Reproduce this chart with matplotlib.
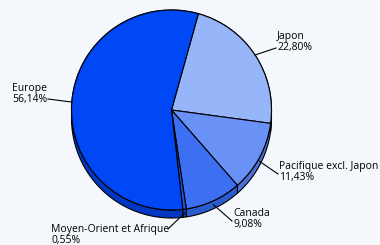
import numpy as np
import matplotlib.pyplot as plt
from matplotlib.patches import Polygon

# data
regions = ["Japon", "Pacifique excl. Japon", "Canada", "Moyen-Orient et Afrique", "Europe"]
shares = [22.80, 11.43, 9.08, 0.55, 56.14]
share_labels = ["22,80%", "11,43%", "9,08%", "0,55%", "56,14%"]

# style
top_colors = ["#97b5f9", "#6a92f6", "#3d6ff2", "#1f55e8", "#0048f5"]
side_colors = ["#7893d0", "#4a72d6", "#2a5bd0", "#1240b8", "#0038c4"]
bg = "#f4f8fc"
start_angle = 74.4
depth = 0.08
px = 0.01  # one pixel in data units

# label layout in pixels: (text x, text y center, ha, leader end x, leader end y)
label_layout = [
    (277, 42, "left", 276, 48),
    (279, 172, "left", 278, 174),
    (233, 219, "left", 232, 221),
    (51, 235, "left", 168, 229),
    (47, 94, "right", 48, 99),
]
cx_px, cy_px = 171.5, 110


def to_data(x, y):
    return (x - cx_px) * px, (cy_px - y) * px


fig = plt.figure(figsize=(3.8, 2.45), dpi=100, facecolor=bg)
ax = fig.add_axes([0, 0, 1, 1])
ax.set_facecolor(bg)

fracs = np.array(shares) / np.sum(shares)
edges = start_angle - 360 * np.concatenate([[0], np.cumsum(fracs)])

# side band of the pie
for i in range(len(shares)):
    t = np.radians(np.linspace(edges[i], edges[i + 1], 120))
    top = np.column_stack([np.cos(t), np.sin(t)])
    bot = np.column_stack([np.cos(t[::-1]), np.sin(t[::-1]) - depth])
    ax.add_patch(Polygon(np.vstack([top, bot]), closed=True, facecolor=side_colors[i],
                         edgecolor="black", linewidth=0.8, zorder=1))

# top face
ax.pie(shares, colors=top_colors, startangle=start_angle, counterclock=False,
       radius=1.0, center=(0, 0), frame=True,
       wedgeprops=dict(edgecolor="black", linewidth=0.8, zorder=2))
ax.set_xlim(-cx_px * px, (380 - cx_px) * px)
ax.set_ylim(-(245 - cy_px) * px, cy_px * px)
ax.set_aspect("equal")
ax.axis("off")

# labels and leader lines
for i, (name, lab) in enumerate(zip(regions, share_labels)):
    mid = np.radians((edges[i] + edges[i + 1]) / 2)
    sx, sy = np.cos(mid), np.sin(mid)
    if sy < -0.3:
        sy -= depth * 0.5
    tx, ty, ha, lx, ly = label_layout[i]
    ex, ey = to_data(lx, ly)
    ax.plot([sx, ex], [sy, ey], color="black", linewidth=0.8, zorder=3)
    x, y = to_data(tx, ty)
    ax.text(x, y, f"{name}\n{lab}", ha=ha, va="center", fontsize=7.5,
            family="Open Sans", linespacing=1.0, color="black", zorder=4)

fig.savefig("out.png", dpi=100, facecolor=bg)
